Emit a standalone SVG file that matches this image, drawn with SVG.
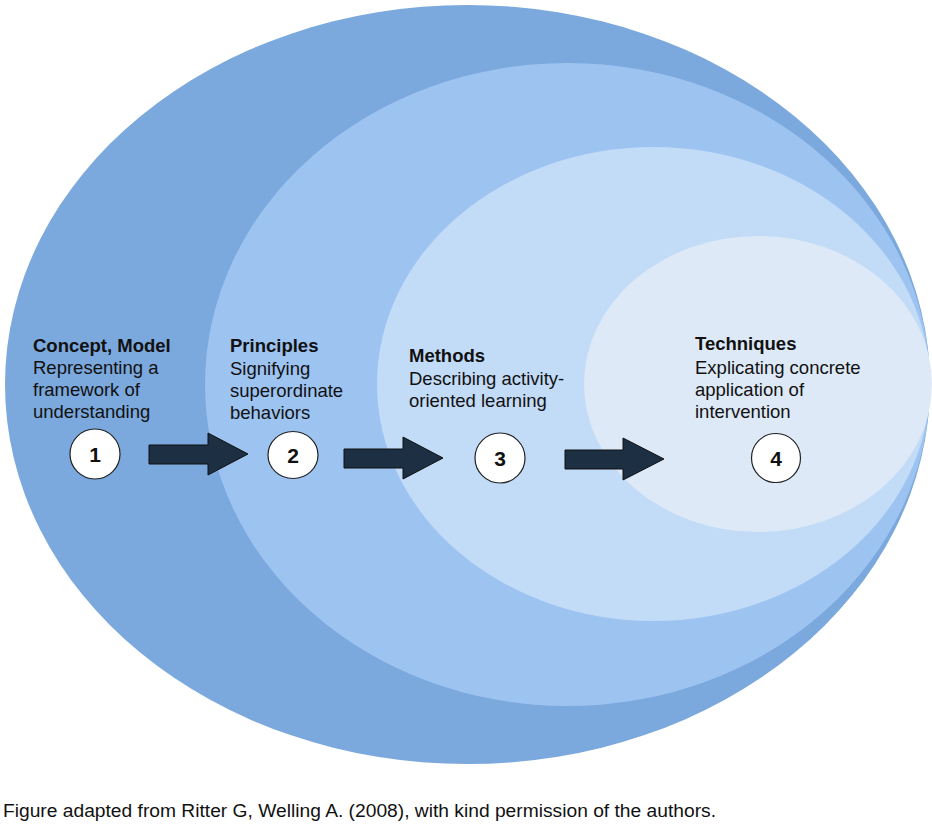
<svg xmlns="http://www.w3.org/2000/svg" width="932" height="825" viewBox="0 0 932 825">
<style>
.lbl{font-family:"Liberation Sans",Arial,sans-serif;font-size:18.5px;fill:#111}
.ttl{font-weight:bold}
.num{font-family:"Liberation Sans",Arial,sans-serif;font-size:21px;font-weight:bold;fill:#111;text-anchor:middle}
.badge{fill:#fff;stroke:#222;stroke-width:1.2}
.arrow{fill:#1d2f42;stroke:#111;stroke-width:1}
.cap{font-family:"Liberation Sans",Arial,sans-serif;font-size:17.5px;fill:#111}
</style>
<rect width="932" height="825" fill="#fff"/>
<g id="node-concept">
<ellipse cx="467.5" cy="384.5" rx="462.5" ry="379.5" fill="#7ba8dd"/>
<text class="lbl" x="33" y="352"><tspan class="ttl">Concept, Model</tspan><tspan x="33" y="374">Representing a</tspan><tspan x="33" y="396">framework of</tspan><tspan x="33" y="418">understanding</tspan></text>
<circle class="badge" cx="95" cy="454" r="25"/>
<text class="num" x="95" y="461.5">1</text>
</g>
<g id="node-principles">
<ellipse cx="567.5" cy="384.5" rx="362.5" ry="321.5" fill="#9dc3f1"/>
<text class="lbl" x="230" y="352"><tspan class="ttl">Principles</tspan><tspan x="230" y="375">Signifying</tspan><tspan x="230" y="397">superordinate</tspan><tspan x="230" y="419">behaviors</tspan></text>
<ellipse class="badge" cx="293" cy="455" rx="25" ry="23.5"/>
<text class="num" x="293" y="462.5">2</text>
</g>
<g id="node-methods">
<ellipse cx="653.5" cy="384" rx="276.5" ry="237" fill="#c2dbf7"/>
<text class="lbl" x="409" y="362"><tspan class="ttl">Methods</tspan><tspan x="409" y="385">Describing activity-</tspan><tspan x="409" y="407">oriented learning</tspan></text>
<circle class="badge" cx="500" cy="458" r="25"/>
<text class="num" x="500" y="465.5">3</text>
</g>
<g id="node-techniques">
<ellipse cx="758" cy="384" rx="174" ry="148" fill="#dde9f7"/>
<text class="lbl" x="695" y="350"><tspan class="ttl">Techniques</tspan><tspan x="695" y="374">Explicating concrete</tspan><tspan x="695" y="396">application of</tspan><tspan x="695" y="418">intervention</tspan></text>
<circle class="badge" cx="776" cy="458" r="24.5"/>
<text class="num" x="776" y="465.5">4</text>
</g>
<g id="connectors">
<polygon class="arrow" points="149,445 208,445 208,433 248,454 208,475 208,464 149,464"/>
<polygon class="arrow" points="344,449 403,449 403,437 443,458 403,479 403,468 344,468"/>
<polygon class="arrow" points="565,450 623,450 623,438 664,459 623,480 623,469 565,469"/>
</g>
<text class="cap" x="3" y="817" textLength="713" lengthAdjust="spacingAndGlyphs">Figure adapted from Ritter G, Welling A. (2008), with kind permission of the authors.</text>
</svg>
